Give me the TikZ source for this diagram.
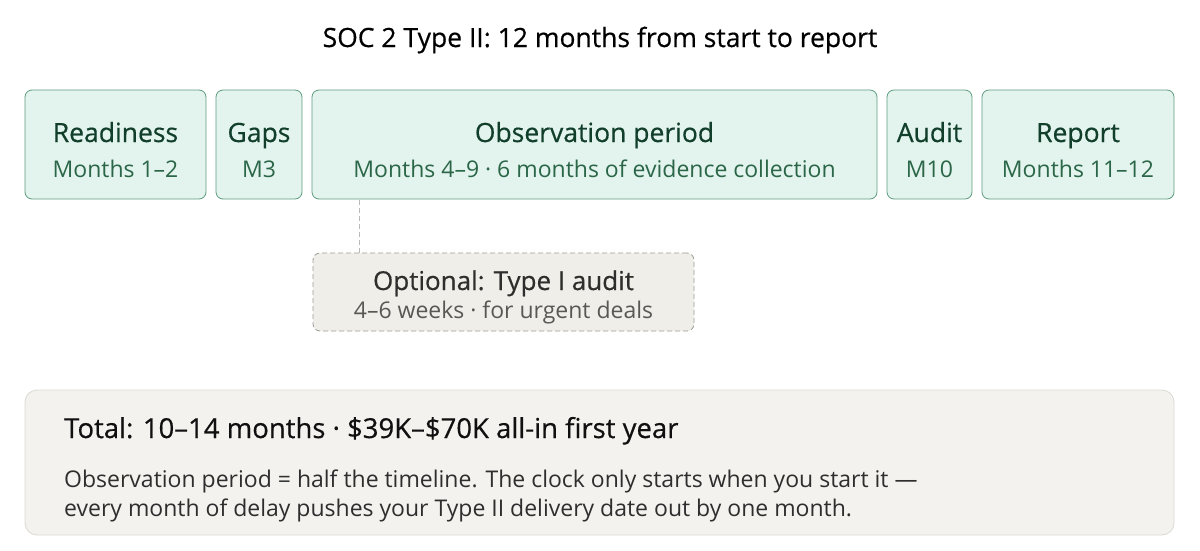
\documentclass[tikz,border=0pt]{standalone}
\usepackage{fontspec}
\setmainfont{Open Sans}
\newfontfamily\medfont[FakeBold=0.5]{Open Sans}
\usepackage{tikz}
\usetikzlibrary{positioning}

\definecolor{phasefill}{HTML}{E3F4EE}
\definecolor{phaseline}{HTML}{5E9C80}
\definecolor{phasehead}{HTML}{123F2B}
\definecolor{phasesub}{HTML}{2A6647}
\definecolor{optfill}{HTML}{F0EEE9}
\definecolor{optline}{HTML}{9C9C98}
\definecolor{opthead}{HTML}{2E2E2C}
\definecolor{optsub}{HTML}{585855}
\definecolor{totfill}{HTML}{F3F2EE}
\definecolor{totline}{HTML}{DAD9D3}
\definecolor{tothead}{HTML}{101010}
\definecolor{totbody}{HTML}{2E2E2E}

\begin{document}
\begin{tikzpicture}[x=1pt, y=-1pt]

    % Boundary
    \useasboundingbox (0,0) rectangle (1200,550);

    % Box and text styles
    \tikzset{phase/.style={draw = phaseline, fill = phasefill, rounded corners = 7pt, line width = 0.8pt, inner sep = 0pt, minimum height = 109pt}}
    \tikzset{txt/.style={anchor = base, inner sep = 0pt}}
    \tikzset{pH/.style={txt, text = phasehead, font = \medfont\fontsize{26.5}{31}\selectfont}}
    \tikzset{pS/.style={txt, text = phasesub, font = \fontsize{23}{27}\selectfont}}
    \tikzset{optbox/.style={draw = optline, fill = optfill, dashed, dash pattern = on 5pt off 3pt, rounded corners = 7pt, line width = 0.8pt, inner sep = 0pt}}
    \tikzset{link/.style={draw = optline!70, dashed, dash pattern = on 5pt off 3pt, line width = 0.8pt}}

    % Title
    \node (ttl) [txt, font = \medfont\fontsize{26.5}{31}\selectfont] at (600, 47) {SOC 2 Type II: 12 months from start to report};

    % Phase boxes
    \node (rd) [phase, minimum width = 181pt] at (115.5, 144.5) {};
    \node (gp) [phase, minimum width = 86pt] at (259, 144.5) {};
    \node (ob) [phase, minimum width = 565pt] at (594.5, 144.5) {};
    \node (au) [phase, minimum width = 85pt] at (929.5, 144.5) {};
    \node (rp) [phase, minimum width = 192pt] at (1078, 144.5) {};

    % Phase labels
    \node (rdH) [pH] at (rd.center |- 0, 142) {Readiness};
    \node (rdS) [pS] at (rd.center |- 0, 177) {Months 1–2};
    \node (gpH) [pH] at (gp.center |- 0, 142) {Gaps};
    \node (gpS) [pS] at (gp.center |- 0, 177) {M3};
    \node (obH) [pH] at (ob.center |- 0, 142) {Observation period};
    \node (obS) [pS] at (ob.center |- 0, 177) {Months 4–9 · 6 months of evidence collection};
    \node (auH) [pH] at (au.center |- 0, 142) {Audit};
    \node (auS) [pS] at (au.center |- 0, 177) {M10};
    \node (rpH) [pH] at (rp.center |- 0, 142) {Report};
    \node (rpS) [pS] at (rp.center |- 0, 177) {Months 11–12};

    % Optional Type I
    \node (opt) [optbox, minimum width = 381pt, minimum height = 78pt] at (503.5, 292) {};
    \node (optH) [txt, text = opthead, font = \medfont\fontsize{26}{31}\selectfont] at (opt.center |- 0, 290) {Optional: Type I audit};
    \node (optS) [txt, text = optsub, font = \fontsize{23}{27}\selectfont] at (opt.center |- 0, 318) {4–6 weeks · for urgent deals};
    \coordinate (tap) at (359, 199.5);
    \path[link] (tap) -- (tap |- opt.north);

    % Summary
    \node (tot) [draw = totline, fill = totfill, rounded corners = 12pt, line width = 0.8pt, minimum width = 1149pt, minimum height = 145pt] at (599.5, 462.5) {};
    \node (totH) [txt, anchor = base west, text = tothead, font = \medfont\fontsize{27.5}{32}\selectfont] at (64, 438) {Total: 10–14 months · \$39K–\$70K all-in first year};
    \node (totA) [txt, anchor = base west, text = totbody, font = \fontsize{23}{27}\selectfont] at (64, 487) {Observation period = half the timeline. The clock only starts when you start it —};
    \node (totB) [txt, anchor = base west, text = totbody, font = \fontsize{23}{27}\selectfont] at (64, 516) {every month of delay pushes your Type II delivery date out by one month.};

\end{tikzpicture}
\end{document}
